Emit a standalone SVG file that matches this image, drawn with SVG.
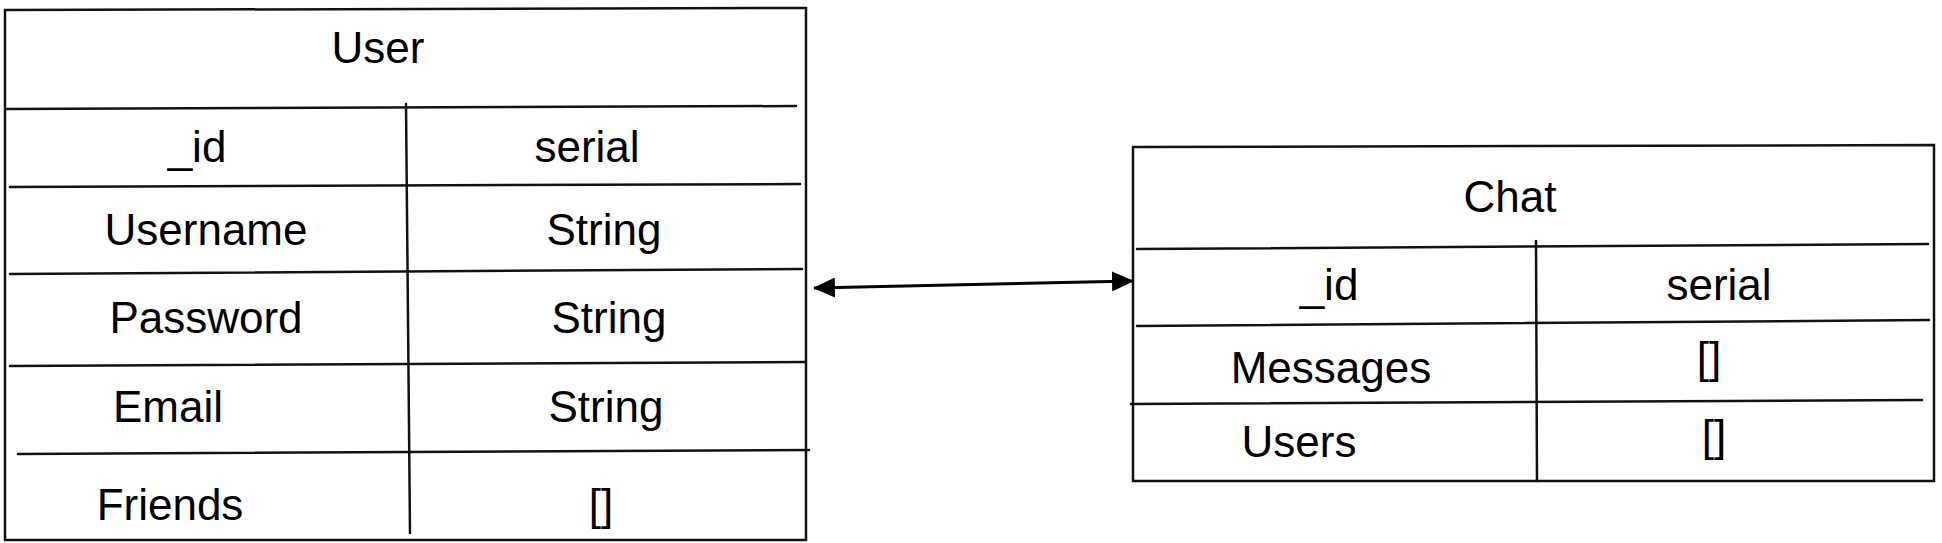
<svg xmlns="http://www.w3.org/2000/svg" width="1942" height="543" viewBox="0 0 1942 543">
<defs>
<style>
.ln{stroke:#111;stroke-width:2.5;fill:none;stroke-linecap:round}
.t{font-family:"Liberation Sans",Arial,Helvetica,sans-serif;font-size:44px;fill:#000;text-anchor:middle}
</style>
<marker id="ah" viewBox="0 0 22 20" refX="21" refY="10" markerWidth="22" markerHeight="20" markerUnits="userSpaceOnUse" orient="auto-start-reverse">
<path d="M0,0 L22,10 L0,20 Z" fill="#000"/>
</marker>
</defs>
<rect width="1942" height="543" fill="#fff"/>
<g id="user">
<path class="ln" d="M5,10 L806,8 L806,540 L5,540 Z"/>
<path class="ln" d="M5,109 L796,106"/>
<path class="ln" d="M10,187 L800,184"/>
<path class="ln" d="M10,274 L802,269"/>
<path class="ln" d="M10,366 L805,362"/>
<path class="ln" d="M18,454 L809,450"/>
<path class="ln" d="M406,104 L410,533"/>
<text class="t" x="378" y="63">User</text>
<text class="t" x="197" y="162">_id</text>
<text class="t" x="587" y="162">serial</text>
<text class="t" x="206" y="245">Username</text>
<text class="t" x="604" y="245">String</text>
<text class="t" x="206" y="333">Password</text>
<text class="t" x="609" y="333">String</text>
<text class="t" x="168" y="422">Email</text>
<text class="t" x="606" y="422">String</text>
<text class="t" x="170" y="520">Friends</text>
<text class="t" x="601" y="520">[]</text>
</g>
<g id="chat">
<path class="ln" d="M1133,147 L1934,145 L1934,481 L1133,481 Z"/>
<path class="ln" d="M1137,249 L1928,244"/>
<path class="ln" d="M1137,326 L1929,320"/>
<path class="ln" d="M1131,404 L1922,400"/>
<path class="ln" d="M1536,241 L1537,481"/>
<text class="t" x="1510" y="212">Chat</text>
<text class="t" x="1329" y="300">_id</text>
<text class="t" x="1719" y="300">serial</text>
<text class="t" x="1331" y="383">Messages</text>
<text class="t" x="1709" y="373">[]</text>
<text class="t" x="1299" y="457">Users</text>
<text class="t" x="1714" y="451">[]</text>
</g>
<g id="connectors">
<path d="M814,288 L1133,281" stroke="#000" stroke-width="3" fill="none" marker-start="url(#ah)" marker-end="url(#ah)"/>
</g>
</svg>
